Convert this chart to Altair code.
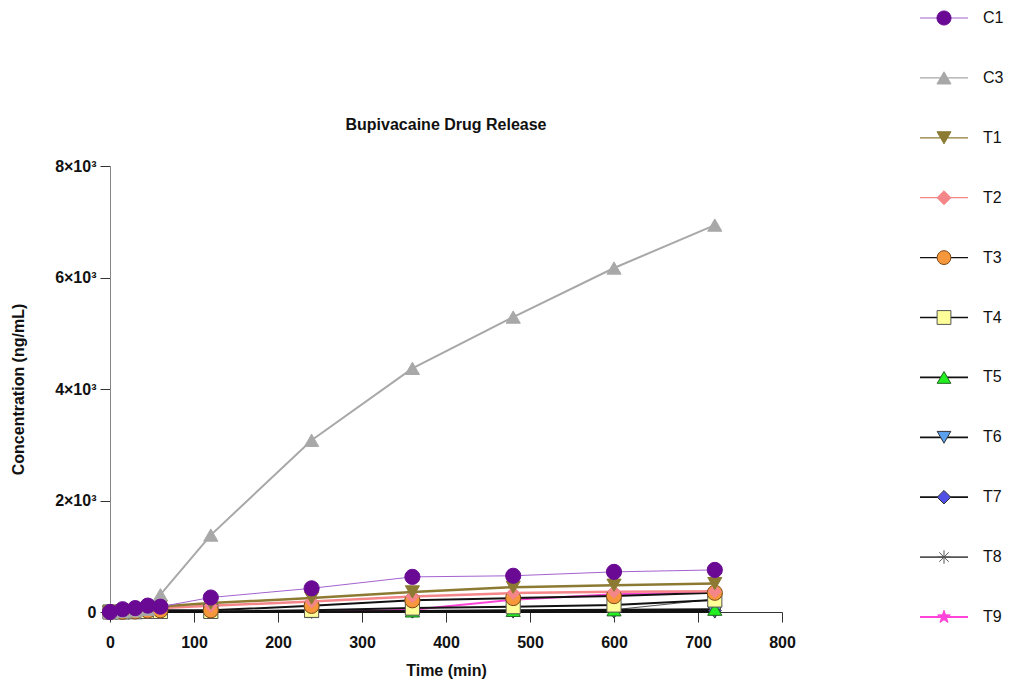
import altair as alt
import pandas as pd

# ---- data ----
time_min = [0, 15, 30, 45, 60, 120, 240, 360, 480, 600, 720]
series_names = ["C1", "C3", "T1", "T2", "T3", "T4", "T5", "T6", "T7", "T8", "T9"]

c1 = [0, 50, 70, 115, 95, 260, 425, 630, 650, 720, 755]
c3 = [0, 10, 20, 50, 310, 1380, 3080, 4370, 5290, 6170, 6940]
t1 = [0, 15, 30, 60, 100, 160, 250, 360, 445, 480, 510]
t2 = [0, 10, 20, 40, 70, 110, 190, 280, 340, 365, 370]
t3 = [0, 5, 10, 25, 30, 30, 110, 210, 250, 285, 345]
t4 = [0, 0, 5, 10, 10, 10, 30, 70, 95, 125, 215]
t5 = [0, 0, 0, 0, 0, 5, 10, 20, 30, 40, 50]
t6 = [0, 0, 0, 0, 0, 0, 0, 0, 0, 0, 0]
t7 = [0, 0, 0, 0, 0, 0, 5, 10, 15, 20, 25]
t8 = [0, 0, 0, 0, 0, 0, 0, 10, 20, 40, 230]
t9 = [0, 0, 0, 0, 0, 0, 0, 40, 220, 320, 355]
values = {"C1": c1, "C3": c3, "T1": t1, "T2": t2, "T3": t3, "T4": t4,
          "T5": t5, "T6": t6, "T7": t7, "T8": t8, "T9": t9}

x_ticks = [0, 100, 200, 300, 400, 500, 600, 700, 800]
y_ticks = [0, 2000, 4000, 6000, 8000]

# ---- styles ----
asterisk = "M-1,0L1,0M0,-1L0,1M-0.7,-0.7L0.7,0.7M-0.7,0.7L0.7,-0.7"
star = ("M0,-1L0.235,-0.324L0.951,-0.309L0.38,0.124L0.588,0.809L0,0.4"
        "L-0.588,0.809L-0.38,0.124L-0.951,-0.309L-0.235,-0.324Z")
line_colors = ["#a362cf", "#a8a8a8", "#8c7a32", "#f4868a", "#111111", "#111111",
               "#111111", "#111111", "#111111", "#555555", "#ff44d8"]
line_widths = [1, 2, 2.5, 2.5, 2, 2, 2, 2, 2, 1, 2]
marker_shapes = ["circle", "triangle-up", "triangle-down", "diamond", "circle", "square",
                 "triangle-up", "triangle-down", "diamond", asterisk, star]
marker_fills = ["#6a0a94", "#a8a8a8", "#8c7a32", "#f4868a", "#f7973c", "#ffff99",
                "#22ee22", "#5aa0ef", "#5050e6", "#555555", "#ff44d8"]
marker_strokes = ["#6a0a94", "#a8a8a8", "#8c7a32", "#f4868a", "#7a4a1a", "#555555",
                  "#226622", "#333333", "#333333", "#555555", "#ff44d8"]
marker_sizes = [230, 200, 200, 170, 230, 200, 200, 200, 170, 150, 200]
legend_sizes = [200, 180, 180, 150, 200, 180, 180, 180, 150, 140, 180]

# ---- layout (pixels) ----
W, H = 672, 446
PAD = {"left": 110, "top": 166, "right": 241, "bottom": 72}
X_MAX, Y_MAX = 800, 8000
leg_row_px = [18 + 59.9 * i for i in range(len(series_names))]   # page y of legend rows
leg_line_px = (920, 968)
leg_mark_px = 944
leg_text_px = 983


def px_to_x(px):
    return (px - PAD["left"]) * X_MAX / W


def px_to_y(py):
    return (PAD["top"] + H - py) * Y_MAX / H


rows = []
for s in series_names:
    for t, v in zip(time_min, values[s]):
        rows.append({"series": s, "time": t, "conc": v})
df = pd.DataFrame(rows)

legend_df = pd.DataFrame({
    "series": series_names,
    "ly": [px_to_y(p) for p in leg_row_px],
    "lx0": px_to_x(leg_line_px[0]),
    "lx1": px_to_x(leg_line_px[1]),
    "lxm": px_to_x(leg_mark_px),
    "lxt": px_to_x(leg_text_px),
})

FONT = "Liberation Sans"

x_scale = alt.Scale(domain=[0, X_MAX], nice=False, zero=False)
y_scale = alt.Scale(domain=[0, Y_MAX], nice=False)

x_axis = alt.Axis(values=x_ticks, title="Time (min)", tickSize=10, labelPadding=12,
                  domainColor="#333333", tickColor="#333333", format="d", labelFlush=False,
                  titleY=58, titleBaseline="middle")
y_axis = alt.Axis(values=y_ticks, title="Concentration (ng/mL)", tickSize=10,
                  labelPadding=4, domainColor="#888888", tickColor="#333333", labelFlush=False,
                  labelExpr="datum.value == 0 ? '0' : (datum.value / 1000) + '×10³'",
                  titleX=-92, titleY=223, titleBaseline="middle", titleAlign="center")

x_enc = alt.X("time:Q", scale=x_scale, axis=x_axis)
y_enc = alt.Y("conc:Q", scale=y_scale, axis=y_axis)

layers = []
for i in reversed(range(len(series_names))):
    s = series_names[i]
    base = alt.Chart(df[df["series"] == s]).encode(x=x_enc, y=y_enc)
    layers.append(base.mark_line(color=line_colors[i], strokeWidth=line_widths[i]))
for i in reversed(range(len(series_names))):
    s = series_names[i]
    base = alt.Chart(df[df["series"] == s]).encode(x=x_enc, y=y_enc)
    layers.append(base.mark_point(shape=marker_shapes[i], filled=bool(i != 9),
                                  fill=marker_fills[i], stroke=marker_strokes[i],
                                  strokeWidth=1, size=marker_sizes[i], opacity=1))

leg_y = alt.Y("ly:Q", scale=y_scale, axis=y_axis)
leg_base = alt.Chart(legend_df)
layers.append(leg_base.mark_rule().encode(
    x=alt.X("lx0:Q", scale=x_scale, axis=x_axis), x2="lx1:Q", y=leg_y,
    color=alt.Color("series:N", scale=alt.Scale(domain=series_names, range=line_colors), legend=None),
    strokeWidth=alt.StrokeWidth("series:N", scale=alt.Scale(domain=series_names, range=line_widths), legend=None),
))
layers.append(leg_base.mark_point(filled=True, opacity=1, strokeWidth=1).encode(
    x=alt.X("lxm:Q", scale=x_scale, axis=x_axis), y=leg_y,
    shape=alt.Shape("series:N", scale=alt.Scale(domain=series_names, range=marker_shapes), legend=None),
    fill=alt.Fill("series:N", scale=alt.Scale(domain=series_names, range=marker_fills), legend=None),
    stroke=alt.Stroke("series:N", scale=alt.Scale(domain=series_names, range=marker_strokes), legend=None),
    size=alt.Size("series:N", scale=alt.Scale(domain=series_names, range=legend_sizes), legend=None),
))
layers.append(leg_base.mark_text(align="left", baseline="middle", fontSize=16, font=FONT,
                                 color="#111111").encode(
    x=alt.X("lxt:Q", scale=x_scale, axis=x_axis), y=leg_y, text="series:N"))

chart = alt.layer(*layers).properties(
    width=W, height=H,
    padding=PAD,
    autosize=alt.AutoSizeParams(type="none"),
    background="white",
    title=alt.TitleParams("Bupivacaine Drug Release", fontSize=16, fontWeight="bold",
                          font=FONT, color="#111111", anchor="middle", offset=0, dy=124),
).configure_axis(
    labelFont=FONT, titleFont=FONT, labelFontSize=16, titleFontSize=16,
    labelFontWeight="bold", titleFontWeight="bold", labelColor="#111111",
    titleColor="#111111", grid=False,
).configure_view(stroke=None)

chart.save("out.html", embed_options={"renderer": "svg", "actions": False})
